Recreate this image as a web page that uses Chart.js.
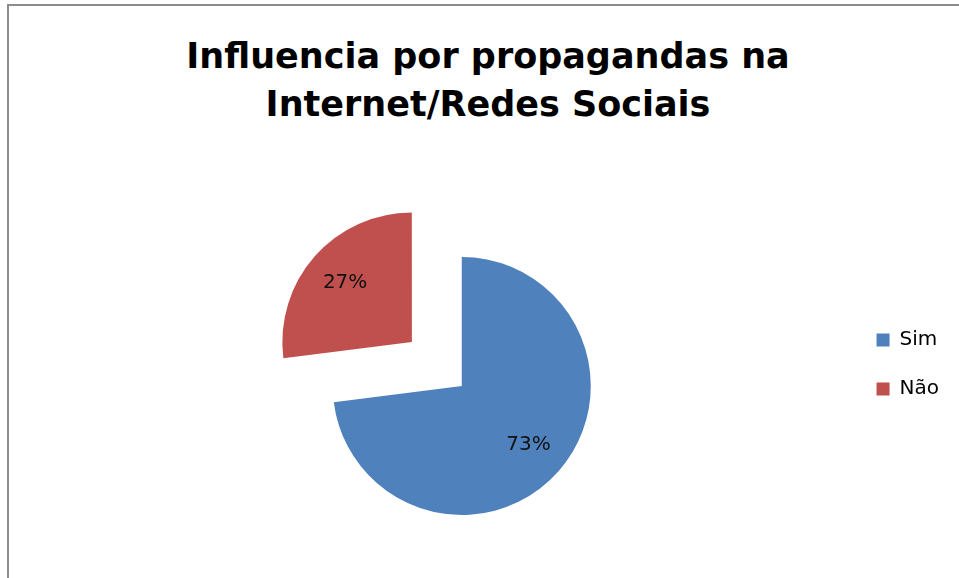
<!DOCTYPE html>
<html>
<head>
<meta charset="utf-8">
<script src="https://cdn.jsdelivr.net/npm/chart.js@4"></script>
<style>
    body { margin: 0; overflow: hidden; background: #fff; }
    .wrap { position: relative; width: 959px; height: 578px; overflow: hidden; }
    .frame { position: absolute; left: 7px; top: 4px; width: 2000px; height: 2000px;
             border-top: 2px solid #8c8c8c; border-left: 2px solid #8c8c8c; }
    .title { position: absolute; left: 17px; top: 32px; width: 942px; text-align: center;
             font: bold 35px/48px "DejaVu Sans"; color: #000; }
    .chart { position: absolute; left: 0; top: 0; width: 959px; height: 578px; }
</style>
</head>
<body>
<div class="wrap">
    <div class="frame"></div>
    <div class="title">Influencia por propagandas na<br>Internet/Redes Sociais</div>
    <div class="chart"><canvas id="pieChart"></canvas></div>
</div>
<script>
    // Данные диаграммы //
    let labels = ['Sim', 'Não'];
    let values = [73, 27];
    let colors = ['#4F81BD', '#C0504D'];
    let offsets = [0, 266];

    // подписи процентов внутри секторов
    let percentLabels = {
        id: 'percentLabels',
        afterDatasetsDraw(chart) {
            let ctx = chart.ctx;
            let meta = chart.getDatasetMeta(0);
            let total = values.reduce((a, b) => a + b, 0);
            ctx.save();
            ctx.font = '20px "DejaVu Sans"';
            ctx.fillStyle = '#111';
            ctx.textAlign = 'center';
            ctx.textBaseline = 'middle';
            meta.data.forEach((arc, i) => {
                let mid = (arc.startAngle + arc.endAngle) / 2;
                let r = offsets[i] / 4 + arc.outerRadius * 0.69;
                let text = Math.round(values[i] / total * 100) + '%';
                ctx.fillText(text, arc.x + Math.cos(mid) * r, arc.y + Math.sin(mid) * r);
            });
            ctx.restore();
        }
    };

    new Chart(document.getElementById('pieChart'), {
        type: 'pie',
        data: {
            labels: labels,
            datasets: [{
                data: values,
                backgroundColor: colors,
                borderWidth: 0,
                offset: offsets,
                hoverOffset: 0,
                clip: false
            }]
        },
        options: {
            responsive: true,
            maintainAspectRatio: false,
            animation: false,
            radius: 129,
            cutout: '0%',
            layout: {
                padding: { top: 301, bottom: 107, left: 76, right: 10 }
            },
            plugins: {
                tooltip: { enabled: false },
                legend: {
                    position: 'right',
                    align: 'start',
                    labels: {
                        boxWidth: 13,
                        boxHeight: 13,
                        padding: 29,
                        color: '#000',
                        font: { family: 'DejaVu Sans', size: 20 }
                    }
                }
            }
        },
        plugins: [percentLabels]
    });
</script>
</body>
</html>
